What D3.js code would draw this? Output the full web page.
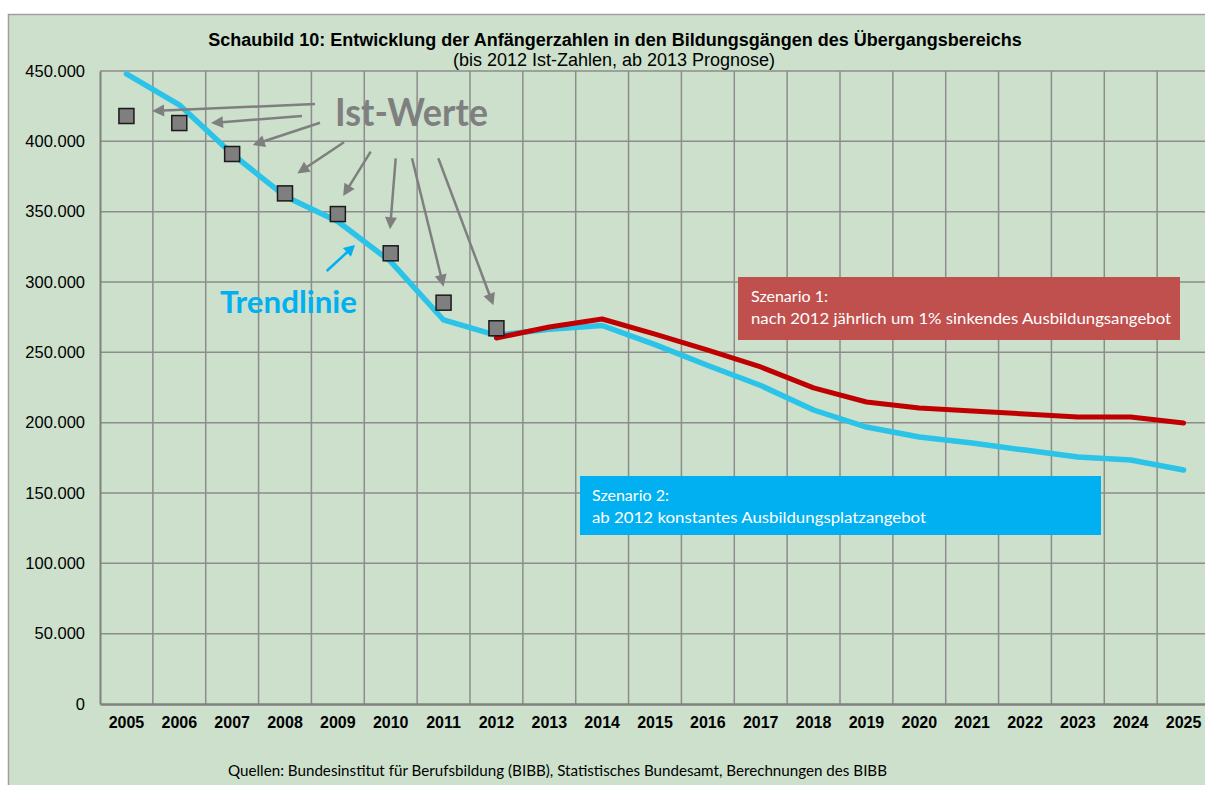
<!DOCTYPE html>
<html><head><meta charset="utf-8">
<script src="https://cdn.jsdelivr.net/npm/d3@7"></script>
<style>html,body{margin:0;padding:0;background:#fff;overflow:hidden}svg{display:block}</style>
</head><body><svg id="c" width="1205" height="785"></svg>
<script>
const years = ["2005","2006","2007","2008","2009","2010","2011","2012","2013","2014","2015","2016","2017","2018","2019","2020","2021","2022","2023","2024","2025"];
const trendValues = [448000,426000,391000,361000,343000,314500,273000,262000,266400,269100,255500,240600,226400,209000,196900,189800,185500,180500,175600,173500,166400];
const scenario1Years = ["2012","2013","2014","2015","2016","2017","2018","2019","2020","2021","2022","2023","2024","2025"];
const scenario1Values = [260200,268000,273700,263000,251600,239600,224700,214700,210400,208300,206200,204000,204000,199800];
const actualYears = ["2005","2006","2007","2008","2009","2010","2011","2012"];
const actualValues = [418000,413000,391000,363000,348300,320400,285300,267100];
const yTicks = [0,50000,100000,150000,200000,250000,300000,350000,400000,450000];
const titleText = "Schaubild 10: Entwicklung der Anfängerzahlen in den Bildungsgängen des Übergangsbereichs";
const subtitleText = "(bis 2012 Ist-Zahlen, ab 2013 Prognose)";
const sourceText = "Quellen: Bundesinstitut für Berufsbildung (BIBB), Statistisches Bundesamt, Berechnungen des BIBB";
const scenario1Lines = ["Szenario 1:", "nach 2012 jährlich um 1% sinkendes Ausbildungsangebot"];
const scenario2Lines = ["Szenario 2:", "ab 2012 konstantes Ausbildungsplatzangebot"];
const istLabel = "Ist-Werte";
const trendLabel = "Trendlinie";

const svg = d3.select("#c");
const arial = "'Liberation Sans', Arial, sans-serif";
const calibri = "Lato, 'Open Sans', sans-serif";

// frame
svg.append("rect").attr("x",8.5).attr("y",14.5).attr("width",1230).attr("height",800)
  .attr("fill","#CCE0CC").attr("stroke","#A0A0A0").attr("stroke-width",1.5);

const x = d3.scaleBand().domain(years).range([100, 1210]);
const y = d3.scaleLinear().domain([0,450000]).range([704, 71]);
const cx = d => x(d) + x.bandwidth()/2;

const fmt = d3.formatLocale({decimal:",", thousands:".", grouping:[3], currency:["","€"]}).format(",");

// gridlines
const g = svg.append("g");
g.selectAll(".hg").data(yTicks.filter(t=>t>0)).join("line")
  .attr("x1",100).attr("x2",1210).attr("y1",d=>y(d)).attr("y2",d=>y(d))
  .attr("stroke","#8C8C8C").attr("stroke-width",1.5);
g.selectAll(".vg").data(years).join("line")
  .attr("x1",d=>x(d)+x.bandwidth()).attr("x2",d=>x(d)+x.bandwidth())
  .attr("y1",y(450000)).attr("y2",y(0))
  .attr("stroke","#8C8C8C").attr("stroke-width",1.5);

// axes
const yAxis = svg.append("g").attr("transform","translate(100,0)")
  .call(d3.axisLeft(y).tickValues(yTicks).tickFormat(fmt).tickSize(0).tickPadding(15));
yAxis.select(".domain").attr("stroke","#808080").attr("stroke-width",2);
yAxis.selectAll("text").attr("font-family",arial).attr("font-size",16.5).attr("fill","#000");

const xAxis = svg.append("g").attr("transform","translate(0,704)")
  .call(d3.axisBottom(x).tickSize(0).tickPadding(13));
xAxis.select(".domain").attr("stroke","#808080").attr("stroke-width",2.5);
xAxis.selectAll("text").attr("font-family",arial).attr("font-size",16).attr("font-weight","bold").attr("fill","#000");

// title
svg.append("text").attr("x",615).attr("y",46).attr("text-anchor","middle")
  .attr("font-family",arial).attr("font-size",18).attr("font-weight","bold").text(titleText);
svg.append("text").attr("x",614).attr("y",66).attr("text-anchor","middle")
  .attr("font-family",arial).attr("font-size",18).text(subtitleText);

// lines
const line = d3.line().x(d=>cx(d[0])).y(d=>y(d[1]));
svg.append("path").datum(years.map((d,i)=>[d,trendValues[i]]))
  .attr("d",line).attr("fill","none").attr("stroke","#2BC4E8").attr("stroke-width",5.5)
  .attr("stroke-linejoin","round").attr("stroke-linecap","round");
svg.append("path").datum(scenario1Years.map((d,i)=>[d,scenario1Values[i]]))
  .attr("d",line).attr("fill","none").attr("stroke","#C00000").attr("stroke-width",5)
  .attr("stroke-linejoin","round").attr("stroke-linecap","round");

// markers
svg.selectAll(".mk").data(actualYears.map((d,i)=>[d,actualValues[i]])).join("rect")
  .attr("x",d=>cx(d[0])-7.5).attr("y",d=>y(d[1])-7.5).attr("width",15).attr("height",15)
  .attr("fill","#7F7F7F").attr("stroke","#1A1A1A").attr("stroke-width",1.5);

// arrows (start in pixels, tip relative to the pointed marker)
function arrow(x1,y1,x2,y2,color,len,hw){
  const dx=x2-x1, dy=y2-y1, L=Math.hypot(dx,dy), ux=dx/L, uy=dy/L;
  const bx=x2-ux*len, by=y2-uy*len;
  svg.append("line").attr("x1",x1).attr("y1",y1).attr("x2",bx+ux*1).attr("y2",by+uy*1)
    .attr("stroke",color).attr("stroke-width",2.5);
  svg.append("path").attr("d",`M${x2},${y2}L${bx-uy*hw},${by+ux*hw}L${bx+uy*hw},${by-ux*hw}Z`)
    .attr("fill",color);
}
const istArrows = [
  {from:[315,104], dx:25.7, dy:-5},
  {from:[302,116], dx:31.7, dy:0},
  {from:[320,122.7], dx:20.7, dy:-9},
  {from:[344,142.3], dx:12.3, dy:-20},
  {from:[370.7,151.7], dx:5.3, dy:-18},
  {from:[395.7,158.3], dx:-0.7, dy:-24},
  {from:[412,158.3], dx:0, dy:-16},
  {from:[438.3,158.3], dx:-3, dy:-23}
];
istArrows.forEach((a,i)=>{
  arrow(a.from[0],a.from[1], cx(actualYears[i])+a.dx, y(actualValues[i])+a.dy, "#7F7F7F", 12, 6);
});
arrow(326.7,271,355,245,"#00B0F0",11,6);

svg.append("text").attr("x",335).attr("y",126).attr("font-family",calibri).attr("font-weight","bold")
  .attr("font-size",38).attr("fill","#7F7F7F").attr("textLength",153).attr("lengthAdjust","spacingAndGlyphs").text(istLabel);
svg.append("text").attr("x",220).attr("y",313).attr("font-family",calibri).attr("font-weight","bold")
  .attr("font-size",31).attr("fill","#00B0F0").attr("textLength",137).attr("lengthAdjust","spacingAndGlyphs").text(trendLabel);

// scenario boxes
svg.append("rect").attr("x",738).attr("y",277).attr("width",442).attr("height",63).attr("fill","#C0504D");
svg.append("text").attr("x",751).attr("y",302).attr("font-family",calibri).attr("font-size",16).attr("fill","#fff").text(scenario1Lines[0]);
svg.append("text").attr("x",751).attr("y",324).attr("font-family",calibri).attr("font-size",16).attr("fill","#fff")
  .attr("textLength",420).attr("lengthAdjust","spacingAndGlyphs").text(scenario1Lines[1]);

svg.append("rect").attr("x",580).attr("y",476).attr("width",521).attr("height",59).attr("fill","#00B0F0");
svg.append("text").attr("x",592).attr("y",501).attr("font-family",calibri).attr("font-size",16).attr("fill","#fff").text(scenario2Lines[0]);
svg.append("text").attr("x",592).attr("y",523).attr("font-family",calibri).attr("font-size",16).attr("fill","#fff")
  .attr("textLength",334).attr("lengthAdjust","spacingAndGlyphs").text(scenario2Lines[1]);

// source
svg.append("text").attr("x",228).attr("y",776).attr("font-family",calibri).attr("font-size",14.5).attr("fill","#000")
  .attr("textLength",659).attr("lengthAdjust","spacingAndGlyphs").text(sourceText);
</script></body></html>
